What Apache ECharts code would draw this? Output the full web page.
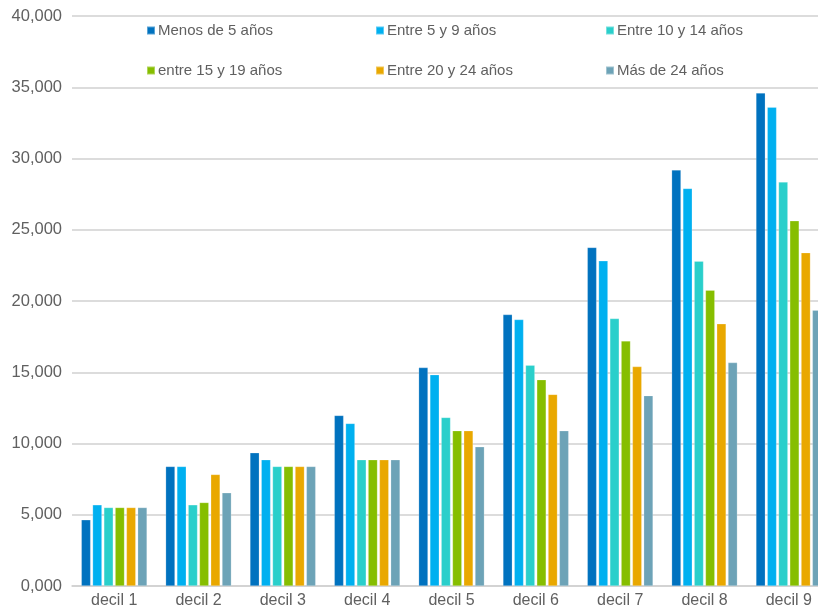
<!DOCTYPE html>
<html>
<head>
<meta charset="utf-8">
<script src="https://cdn.jsdelivr.net/npm/echarts@6/dist/echarts.min.js"></script>
<style>
  html, body { margin: 0; padding: 0; background: #fff; overflow: hidden; width: 818px; height: 610px; }
  /* The chart is a little wider than the page: the last group is cut off at the right edge */
  #chart { width: 831px; height: 610px; }
</style>
</head>
<body>
<div id="chart"></div>
<script>
// Deciles of income, grouped by age band
const categories = ['decil 1', 'decil 2', 'decil 3', 'decil 4', 'decil 5', 'decil 6', 'decil 7', 'decil 8', 'decil 9'];

const seriesNames = ['Menos de 5 años', 'Entre 5 y 9 años', 'Entre 10 y 14 años',
                     'entre 15 y 19 años', 'Entre 20 y 24 años', 'Más de 24 años'];

const menos5   = [4650, 8390, 9350, 11970, 15330, 19050, 23760, 29200, 34600];
const entre5_9 = [5700, 8390, 8860, 11410, 14830, 18700, 22820, 27900, 33600];
const entre10_14 = [5510, 5700, 8390, 8860, 11830, 15500, 18770, 22800, 28350];
const entre15_19 = [5510, 5860, 8390, 8860, 10900, 14480, 17200, 20760, 25630];
const entre20_24 = [5510, 7830, 8390, 8860, 10900, 13450, 15400, 18400, 23390];
const mas24    = [5510, 6540, 8390, 8860, 9770, 10900, 13360, 15680, 19360];

const seriesValues = [menos5, entre5_9, entre10_14, entre15_19, entre20_24, mas24];
const colors = ['#0072BF', '#00B0F0', '#2ACFCB', '#86BE00', '#E9A800', '#6DA3B7'];

const FONT = '"Liberation Sans", Arial, sans-serif';
const TEXT_COLOR = '#606060';

// Legend laid out as a 3x2 table: one legend component per entry
const legendCols = [146, 375, 605];
const legendRows = [23, 63];
const legends = seriesNames.map((name, i) => ({
  data: [name],
  left: legendCols[i % 3],
  top: legendRows[Math.floor(i / 3)],
  icon: 'rect',
  itemWidth: 8,
  itemHeight: 8,
  padding: 0,
  selectedMode: false,
  textStyle: { color: TEXT_COLOR, fontSize: 15, fontFamily: FONT, padding: [0, 0, 0, -2] }
}));

const chart = echarts.init(document.getElementById('chart'), null, { renderer: 'canvas' });

chart.setOption({
  animation: false,
  backgroundColor: '#ffffff',
  legend: legends,
  grid: { left: 72, top: 16, right: 0, bottom: 24, containLabel: false },
  xAxis: {
    type: 'category',
    data: categories,
    axisTick: { show: false },
    axisLine: { lineStyle: { color: '#cfcfcf', width: 1.5 } },
    axisLabel: { color: TEXT_COLOR, fontSize: 16, fontFamily: FONT, margin: 7 }
  },
  yAxis: {
    type: 'value',
    min: 0,
    max: 40000,
    interval: 5000,
    axisLine: { show: false },
    axisTick: { show: false },
    splitLine: { lineStyle: { color: '#d0d0d0', width: 1.5 } },
    axisLabel: {
      color: TEXT_COLOR, fontSize: 16.5, fontFamily: FONT, margin: 10,
      formatter: v => (v / 1000).toFixed(3).replace('.', ',')
    }
  },
  series: seriesNames.map((name, i) => ({
    name,
    type: 'bar',
    data: seriesValues[i],
    barWidth: 9.4,
    barGap: '20%',
    itemStyle: { color: colors[i], borderColor: 'rgba(255,255,255,0.35)', borderWidth: 0.6 }
  }))
});
</script>
</body>
</html>
